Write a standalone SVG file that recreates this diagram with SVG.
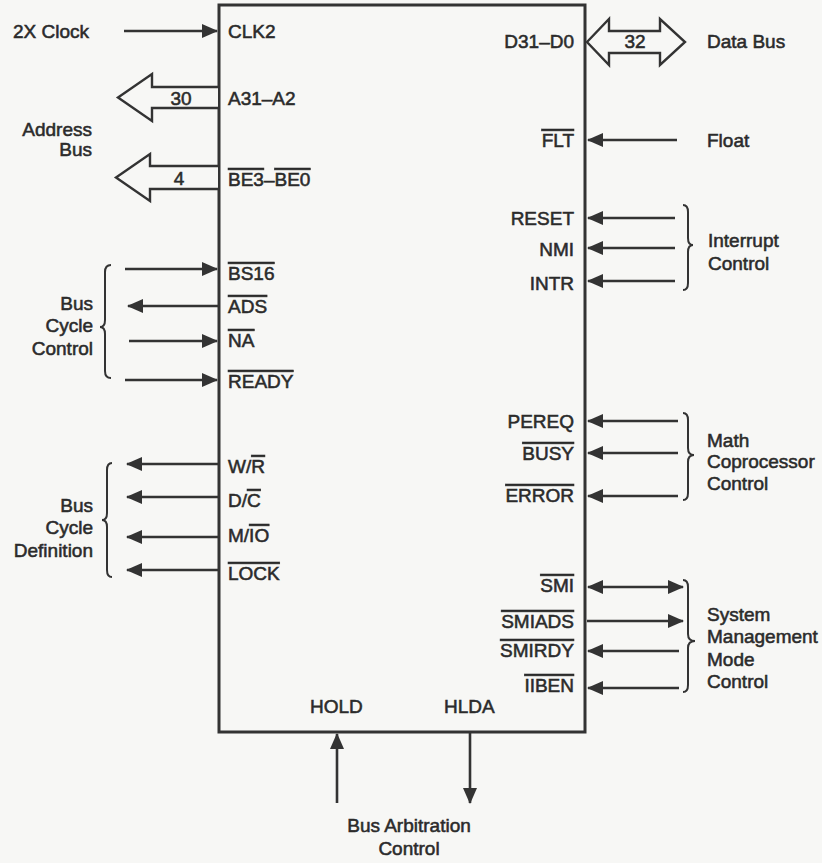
<svg xmlns="http://www.w3.org/2000/svg" width="822" height="863" viewBox="0 0 822 863">
<defs>
<marker id="ah" viewBox="0 0 16 14" refX="15" refY="7" markerWidth="16" markerHeight="14" markerUnits="userSpaceOnUse" orient="auto-start-reverse">
<path d="M0,0 L16,7 L0,14 Z" fill="#333"/>
</marker>
<style>
text{font-family:"Liberation Sans",Arial,Helvetica,sans-serif;font-size:19px;fill:#2b2b2b;stroke:#2b2b2b;stroke-width:0.55}
.e{text-anchor:end}
.m{text-anchor:middle}
.ov{text-decoration:overline}
.w{stroke:#333;stroke-width:2.6;fill:none}
.bus{stroke:#333;stroke-width:2.4;fill:#f7f7f5;stroke-linejoin:miter}
.br{stroke:#333;stroke-width:2;fill:none}
</style>
</defs>
<rect width="822" height="863" fill="#f7f7f5"/>

<g id="chip">
<rect x="219" y="5" width="366" height="727" fill="none" stroke="#333" stroke-width="3"/>
<text x="228" y="38">CLK2</text>
<text x="228" y="105">A31–A2</text>
<text x="228" y="186"><tspan class="ov">BE3</tspan>–<tspan class="ov">BE0</tspan></text>
<text x="228" y="280" class="ov">BS16</text>
<text x="228" y="313" class="ov">ADS</text>
<text x="228" y="347" class="ov">NA</text>
<text x="228" y="388" class="ov">READY</text>
<text x="228" y="473">W/<tspan class="ov">R</tspan></text>
<text x="228" y="507">D/<tspan class="ov">C</tspan></text>
<text x="228" y="542">M/<tspan class="ov">IO</tspan></text>
<text x="228" y="580" class="ov">LOCK</text>
<text x="574" y="48" class="e">D31–D0</text>
<text x="574" y="147" class="e"><tspan class="ov">FLT</tspan></text>
<text x="574" y="225" class="e">RESET</text>
<text x="574" y="256" class="e">NMI</text>
<text x="574" y="290" class="e">INTR</text>
<text x="574" y="428" class="e">PEREQ</text>
<text x="574" y="460" class="e"><tspan class="ov">BUSY</tspan></text>
<text x="574" y="502" class="e"><tspan class="ov">ERROR</tspan></text>
<text x="574" y="592" class="e"><tspan class="ov">SMI</tspan></text>
<text x="574" y="628" class="e"><tspan class="ov">SMIADS</tspan></text>
<text x="574" y="657" class="e"><tspan class="ov">SMIRDY</tspan></text>
<text x="574" y="692" class="e"><tspan class="ov">IIBEN</tspan></text>
<text x="310" y="713">HOLD</text>
<text x="444" y="713">HLDA</text>
</g>

<g id="connectors">
<line class="w" x1="124" y1="31" x2="217" y2="31" marker-end="url(#ah)"/>
<path class="bus" d="M218,87 L152,87 L152,74 L118,97.5 L152,121 L152,108 L218,108"/>
<path class="bus" d="M218,166 L150,166 L150,154 L116,177.5 L150,201 L150,189 L218,189"/>
<line class="w" x1="125" y1="269" x2="217" y2="269" marker-end="url(#ah)"/>
<line class="w" x1="218" y1="306" x2="128" y2="306" marker-end="url(#ah)"/>
<line class="w" x1="129" y1="341" x2="217" y2="341" marker-end="url(#ah)"/>
<line class="w" x1="125" y1="380" x2="217" y2="380" marker-end="url(#ah)"/>
<line class="w" x1="218" y1="464" x2="127" y2="464" marker-end="url(#ah)"/>
<line class="w" x1="218" y1="497" x2="127" y2="497" marker-end="url(#ah)"/>
<line class="w" x1="218" y1="537" x2="127" y2="537" marker-end="url(#ah)"/>
<line class="w" x1="218" y1="570" x2="127" y2="570" marker-end="url(#ah)"/>
<path class="bus" d="M587,42 L609,19 L609,31 L660,31 L660,19 L685,42 L660,65 L660,53 L609,53 L609,65 Z"/>
<line class="w" x1="677" y1="140" x2="588" y2="140" marker-end="url(#ah)"/>
<line class="w" x1="675" y1="218" x2="588" y2="218" marker-end="url(#ah)"/>
<line class="w" x1="675" y1="248" x2="588" y2="248" marker-end="url(#ah)"/>
<line class="w" x1="675" y1="281" x2="588" y2="281" marker-end="url(#ah)"/>
<line class="w" x1="678" y1="421" x2="588" y2="421" marker-end="url(#ah)"/>
<line class="w" x1="678" y1="453" x2="588" y2="453" marker-end="url(#ah)"/>
<line class="w" x1="678" y1="496" x2="588" y2="496" marker-end="url(#ah)"/>
<line class="w" x1="588" y1="587" x2="683" y2="587" marker-start="url(#ah)" marker-end="url(#ah)"/>
<line class="w" x1="587" y1="621" x2="683" y2="621" marker-end="url(#ah)"/>
<line class="w" x1="679" y1="651" x2="588" y2="651" marker-end="url(#ah)"/>
<line class="w" x1="679" y1="688" x2="588" y2="688" marker-end="url(#ah)"/>
<line class="w" x1="337" y1="803" x2="337" y2="734" marker-end="url(#ah)"/>
<line class="w" x1="470" y1="733" x2="470" y2="803" marker-end="url(#ah)"/>
<path class="br" d="M111,265 Q105,265 105,272 L105,320 Q105,327 100,327 Q105,327 105,334 L105,371 Q105,378 111,378"/>
<path class="br" d="M112,463 Q107,463 107,470 L107,513 Q107,520 102,520 Q107,520 107,527 L107,570 Q107,577 112,577"/>
<path class="br" d="M683,205 Q688,205 688,212 L688,238 Q688,245 693,245 Q688,245 688,252 L688,283 Q688,290 683,290"/>
<path class="br" d="M683,413 Q688,413 688,420 L688,448 Q688,455 694,455 Q688,455 688,462 L688,493 Q688,500 683,500"/>
<path class="br" d="M683,580 Q688,580 688,587 L688,634 Q688,641 695,641 Q688,641 688,648 L688,685 Q688,692 683,692"/>
</g>

<g id="bus-widths">
<text x="181" y="105" class="m">30</text>
<text x="179" y="185" class="m">4</text>
<text x="635" y="48" class="m">32</text>
</g>

<g id="clock"><text x="13" y="38">2X Clock</text></g>
<g id="address-bus"><text x="92" y="136" class="e">Address</text><text x="92" y="156" class="e">Bus</text></g>
<g id="bus-cycle-control"><text x="93" y="310" class="e">Bus</text><text x="93" y="332" class="e">Cycle</text><text x="93" y="355" class="e">Control</text></g>
<g id="bus-cycle-definition"><text x="93" y="512" class="e">Bus</text><text x="93" y="534" class="e">Cycle</text><text x="93" y="557" class="e">Definition</text></g>
<g id="data-bus"><text x="707" y="48">Data Bus</text></g>
<g id="float"><text x="707" y="147">Float</text></g>
<g id="interrupt-control"><text x="708" y="247">Interrupt</text><text x="708" y="270">Control</text></g>
<g id="math-coprocessor-control"><text x="707" y="447">Math</text><text x="707" y="468">Coprocessor</text><text x="707" y="490">Control</text></g>
<g id="smm-control"><text x="707" y="621">System</text><text x="707" y="643">Management</text><text x="707" y="666">Mode</text><text x="707" y="688">Control</text></g>
<g id="bus-arbitration-control"><text x="409" y="832" class="m">Bus Arbitration</text><text x="409" y="855" class="m">Control</text></g>
</svg>
